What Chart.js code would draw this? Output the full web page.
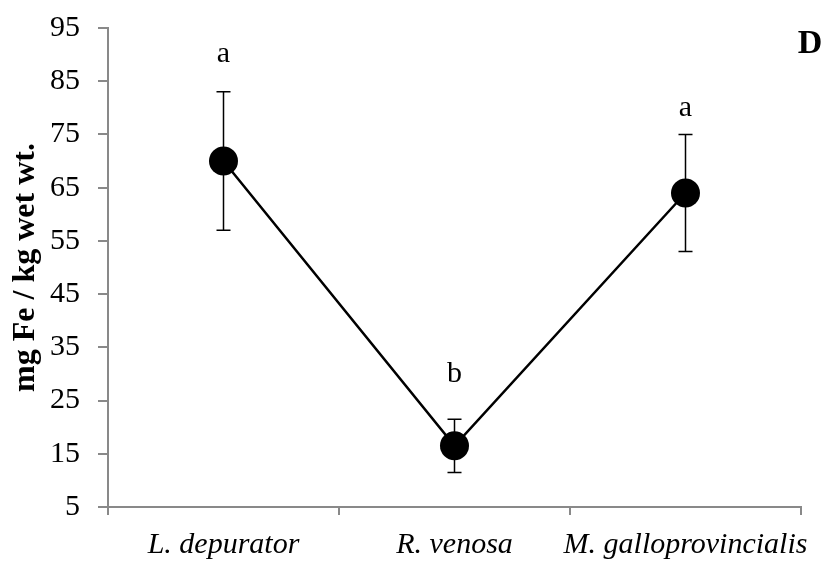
<!DOCTYPE html>
<html>
<head>
<meta charset="utf-8">
<script src="https://cdn.jsdelivr.net/npm/chart.js@4"></script>
<style>
html,body{margin:0;padding:0;background:#fff;}
#wrap{width:825px;height:566px;}
</style>
</head>
<body>
<div id="wrap"><canvas id="c" width="825" height="566"></canvas></div>
<script>
const categories = ['L. depurator', 'R. venosa', 'M. galloprovincialis'];
const meanValues = [70, 16.5, 64];
const errorLow = [57, 11.5, 53];
const errorHigh = [83, 21.5, 75];
const groupLetters = ['a', 'b', 'a'];
const letterAnchors = [90, 30, 80];
const yTicks = [5, 15, 25, 35, 45, 55, 65, 75, 85, 95];
const panelLabel = 'D';

const SERIF = '"Liberation Serif", "Times New Roman", serif';
const AXIS = '#898989';

const extras = {
  id: 'extras',
  beforeDatasetsDraw(chart) {
    const ctx = chart.ctx, x = chart.scales.x, y = chart.scales.y;
    ctx.save();
    ctx.strokeStyle = '#000';
    ctx.lineWidth = 1.5;
    categories.forEach((c, i) => {
      const px = x.getPixelForValue(i);
      const pl = y.getPixelForValue(errorLow[i]);
      const ph = y.getPixelForValue(errorHigh[i]);
      ctx.beginPath();
      ctx.moveTo(px, pl); ctx.lineTo(px, ph);
      ctx.moveTo(px - 7, pl); ctx.lineTo(px + 7, pl);
      ctx.moveTo(px - 7, ph); ctx.lineTo(px + 7, ph);
      ctx.stroke();
    });
    ctx.restore();
  },
  afterDraw(chart) {
    const ctx = chart.ctx, x = chart.scales.x, y = chart.scales.y;
    ctx.save();
    ctx.fillStyle = '#000';
    ctx.textAlign = 'center';
    ctx.textBaseline = 'middle';
    ctx.font = '30px ' + SERIF;
    groupLetters.forEach((l, i) => {
      ctx.fillText(l, x.getPixelForValue(i), y.getPixelForValue(letterAnchors[i]));
    });
    ctx.font = 'bold 34px ' + SERIF;
    ctx.fillText(panelLabel, chart.chartArea.right + 9, chart.chartArea.top + 16);
    ctx.restore();
  }
};

new Chart(document.getElementById('c'), {
  type: 'line',
  data: {
    labels: categories,
    datasets: [{
      data: meanValues,
      borderColor: '#000',
      borderWidth: 2.5,
      backgroundColor: '#000',
      pointRadius: 14.5,
      pointHoverRadius: 14.5,
      pointBackgroundColor: '#000',
      pointBorderWidth: 0,
      tension: 0
    }]
  },
  options: {
    responsive: false,
    animation: false,
    events: [],
    layout: { padding: { left: 0, right: 24, top: 28, bottom: 0 } },
    plugins: { legend: { display: false }, tooltip: { enabled: false } },
    scales: {
      x: {
        type: 'category',
        offset: true,
        afterFit(s) { s.height = 59; s.paddingLeft = 0; s.paddingRight = 0; },
        grid: { offset: true, drawOnChartArea: false, drawTicks: true, tickLength: 8, color: AXIS, lineWidth: 2 },
        border: { display: true, color: AXIS, width: 2 },
        ticks: { color: '#000', padding: 12, maxRotation: 0, autoSkip: false, font: { family: SERIF, size: 30, style: 'italic' } }
      },
      y: {
        min: 5, max: 95,
        afterFit(s) { s.width = 108; s.paddingTop = 0; s.paddingBottom = 0; },
        afterBuildTicks(s) { s.ticks = yTicks.map(v => ({ value: v })); },
        grid: { drawOnChartArea: false, drawTicks: true, tickLength: 10, color: AXIS, lineWidth: 2 },
        border: { display: true, color: AXIS, width: 2 },
        ticks: { color: '#000', padding: 18, font: { family: SERIF, size: 30 } },
        title: { display: true, text: 'mg Fe / kg wet wt.', color: '#000', padding: { top: 7, bottom: 0 }, font: { family: SERIF, size: 32, weight: 'bold' } }
      }
    }
  },
  plugins: [extras]
});
</script>
</body>
</html>
